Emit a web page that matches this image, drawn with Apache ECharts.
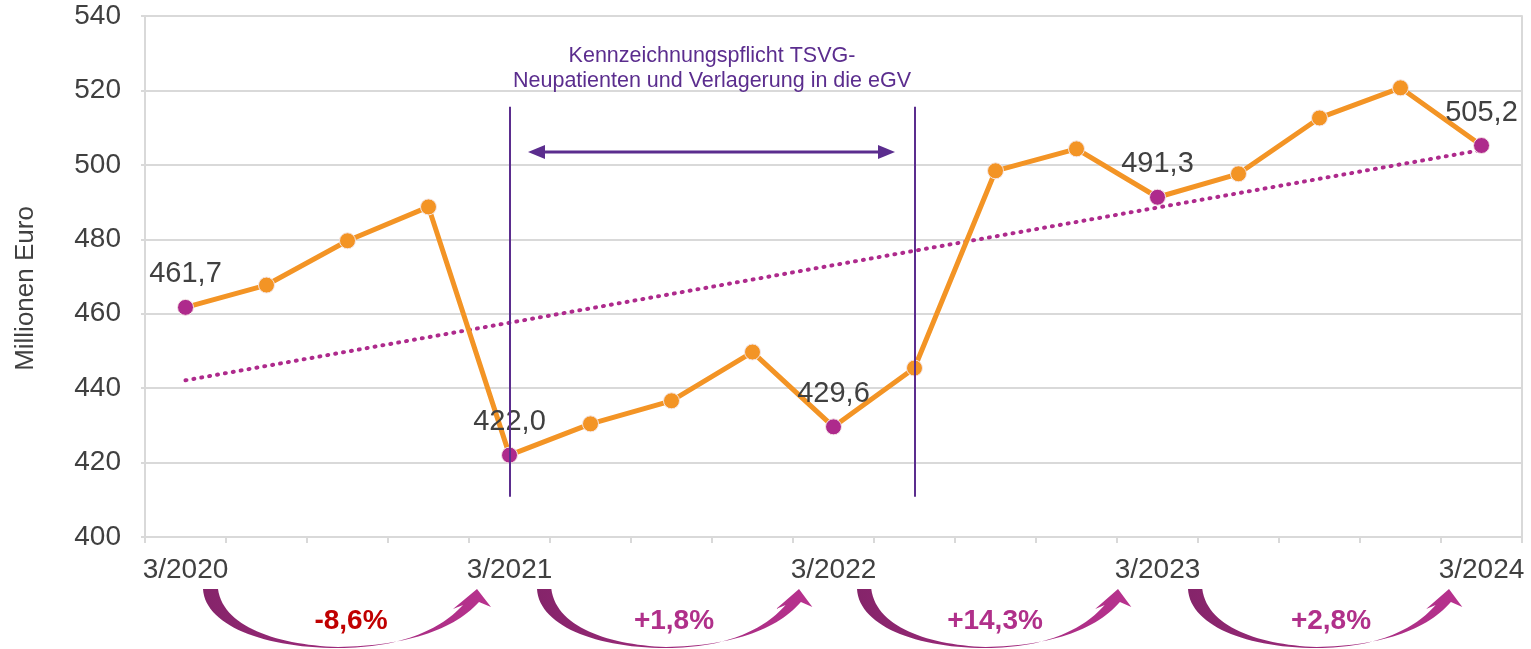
<!DOCTYPE html>
<html><head><meta charset="utf-8">
<script src="https://cdn.jsdelivr.net/npm/echarts@6/dist/echarts.min.js"></script>
<style>html,body{margin:0;padding:0;background:#fff}#c{width:1531px;height:649px}</style>
</head><body><div id="c"></div>
<script>
const categories = ['3/2020','6/2020','9/2020','12/2020','3/2021','6/2021','9/2021','12/2021','3/2022','6/2022','9/2022','12/2022','3/2023','6/2023','9/2023','12/2023','3/2024'];
const values = [461.7,467.7,479.6,488.7,422.0,430.4,436.6,449.7,429.6,445.4,498.4,504.3,491.3,497.6,512.6,520.7,505.2];
const highlighted = [0,4,8,12,16];
const trendEnds = [442.1, 504.0];
const changeLabels = ['-8,6%','+1,8%','+14,3%','+2,8%'];
const changeColors = ['#c00000','#b0308a','#b0308a','#b0308a'];
const annotationLines = ['Kennzeichnungspflicht TSVG-','Neupatienten und Verlagerung in die eGV'];
const markerIdx = [4, 9];
const markerRange = [515.6, 410.8];

const FONT = 'Liberation Sans, Arial, sans-serif';
const ORANGE = '#f39425', MAGENTA = '#ae2a8c', PURPLE = '#5b2d8e';

const chart = echarts.init(document.getElementById('c'));
const fmt = v => v.toFixed(1).replace('.', ',');

const seriesData = values.map((v, i) => {
  const hi = highlighted.includes(i);
  return {
    value: v,
    itemStyle: { color: hi ? MAGENTA : ORANGE, borderColor: '#f4e6e6', borderWidth: 1 },
    label: { show: hi }
  };
});

chart.setOption({
  animation: false,
  textStyle: { fontFamily: FONT },
  grid: { left: 145, right: 9, top: 16, bottom: 112 },
  xAxis: {
    type: 'category', data: categories, boundaryGap: true,
    axisLine: { lineStyle: { color: '#d9d9d9', width: 2 } },
    axisTick: { show: true, interval: 0, length: 6, lineStyle: { color: '#d9d9d9', width: 2 } },
    axisLabel: { interval: 3, color: '#404040', fontSize: 28, margin: 19, fontFamily: FONT },
    splitLine: { show: false }
  },
  yAxis: [{
    type: 'value', min: 400, max: 540, interval: 20,
    name: 'Millionen Euro', nameLocation: 'middle', nameGap: 106, nameRotate: 90,
    nameTextStyle: { color: '#404040', fontSize: 26, fontFamily: FONT, padding: [0, 24, 0, 0] },
    axisLine: { show: true, lineStyle: { color: '#d9d9d9', width: 2 } },
    axisTick: { show: true, length: 4, lineStyle: { color: '#d9d9d9', width: 2 } },
    axisLabel: { color: '#404040', fontSize: 28, margin: 24, fontFamily: FONT },
    splitLine: { lineStyle: { color: '#d9d9d9', width: 2 } }
  }, {
    type: 'value', min: 400, max: 540, interval: 20, position: 'right',
    axisLine: { show: true, lineStyle: { color: '#d9d9d9', width: 2 } },
    axisTick: { show: false }, axisLabel: { show: false }, splitLine: { show: false }
  }],
  series: [{
    type: 'line', data: seriesData, z: 3,
    symbol: 'circle', symbolSize: 16,
    lineStyle: { color: ORANGE, width: 5 },
    label: { position: 'top', distance: 10, color: '#404040', fontSize: 29, fontFamily: FONT,
             formatter: p => fmt(p.value) },
    markLine: {
      silent: true, symbol: 'none', z: 2,
      label: { show: false },
      data: [
        [{ coord: [categories[0], trendEnds[0]], lineStyle: { color: MAGENTA, width: 4, type: [1, 7], cap: 'round' } },
         { coord: [categories[16], trendEnds[1]] }]
      ]
    }
  }, {
    type: 'line', data: [], z: 5,
    markLine: {
      silent: true, symbol: 'none', z: 5, label: { show: false },
      lineStyle: { color: PURPLE, width: 2, type: 'solid' },
      data: markerIdx.map(i => [{ coord: [categories[i], markerRange[0]] }, { coord: [categories[i], markerRange[1]] }])
    }
  }]
});

function cubic(p0, p1, p2, p3, n) {
  const out = [];
  for (let k = 0; k <= n; k++) {
    const t = k / n, u = 1 - t;
    out.push([
      u*u*u*p0[0] + 3*u*u*t*p1[0] + 3*u*t*t*p2[0] + t*t*t*p3[0],
      u*u*u*p0[1] + 3*u*u*t*p1[1] + 3*u*t*t*p2[1] + t*t*t*p3[1]
    ]);
  }
  return out;
}
function arrowShape(x0, W, y0) {
  const s = W / 274;
  const P = (x, y) => [x0 + x * s, y0 + y];
  let pts = [];
  pts = pts.concat(cubic(P(0,0), P(2,36), P(60,59), P(135,59), 30));
  pts = pts.concat(cubic(P(135,59), P(195,59), P(236,42), P(260,16), 30).slice(1));
  pts.push(P(250,20), P(274,0), P(288,18), P(276,13));
  pts = pts.concat(cubic(P(276,13), P(250,42), P(200,57), P(135,58), 30).slice(1));
  pts = pts.concat(cubic(P(135,58), P(75,56), P(20,38), P(15,0), 30).slice(1));
  return pts;
}
const arrowStarts = [203, 537, 857, 1188];
const arrowWidths = [274, 262, 261, 261];
const labelCenters = [351, 674, 995, 1331];
const graphics = [];
arrowStarts.forEach((x0, i) => {
  graphics.push({
    type: 'polygon', z: 10,
    shape: { points: arrowShape(x0, arrowWidths[i], 589) },
    style: { fill: new echarts.graphic.LinearGradient(0, 0, 1, 0, [
      { offset: 0, color: '#85246a' }, { offset: 1, color: '#b8328e' }]) }
  });
  graphics.push({
    type: 'text', z: 11, x: labelCenters[i], y: 621,
    style: { text: changeLabels[i], fill: changeColors[i], font: 'bold 28px ' + FONT,
             align: 'center', verticalAlign: 'middle' }
  });
});
annotationLines.forEach((t, i) => {
  graphics.push({
    type: 'text', z: 11, x: 712, y: 56 + i * 25,
    style: { text: t, fill: PURPLE, font: '21.5px ' + FONT, align: 'center', verticalAlign: 'middle' }
  });
});
graphics.push({ type: 'line', z: 11, shape: { x1: 540, y1: 152, x2: 883, y2: 152 },
  style: { stroke: PURPLE, lineWidth: 3 } });
graphics.push({ type: 'polygon', z: 11, shape: { points: [[528,152],[545,145],[545,159]] }, style: { fill: PURPLE } });
graphics.push({ type: 'polygon', z: 11, shape: { points: [[895,152],[878,145],[878,159]] }, style: { fill: PURPLE } });
chart.setOption({ graphic: graphics });
</script></body></html>
